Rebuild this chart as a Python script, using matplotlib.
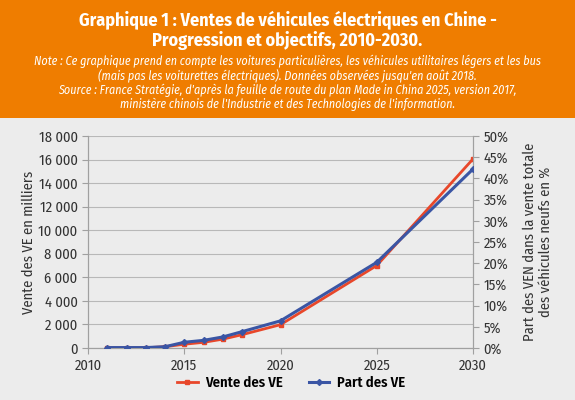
import matplotlib
matplotlib.use("Agg")
import matplotlib.pyplot as plt
from matplotlib.patches import Rectangle
from matplotlib.ticker import FuncFormatter

plt.rcParams['font.family'] = ['Fira Sans Condensed', 'DejaVu Sans']

# Data
annees = [2011, 2012, 2013, 2014, 2015, 2016, 2017, 2018, 2020, 2025, 2030]
vente_ve = [10, 15, 20, 110, 320, 480, 750, 1130, 1980, 7000, 16050]   # milliers
part_ve = [0.1, 0.1, 0.1, 0.3, 1.35, 1.8, 2.6, 3.85, 6.4, 20.2, 42.2]  # %

orange = '#ef7d00'
rouge = '#e8472a'
bleu = '#3a55a4'
fond = '#ececec'

fig = plt.figure(figsize=(5.75, 4), dpi=100, facecolor=fond)
fig.patches.append(Rectangle((0, 1 - 118 / 400), 1, 118 / 400, transform=fig.transFigure,
                             facecolor=orange, edgecolor='none', zorder=0))

fig.text(0.5, 1 - 20 / 400, "Graphique 1 : Ventes de véhicules électriques en Chine -",
         ha='center', va='center', color='white', fontsize=13, fontweight='bold')
fig.text(0.5, 1 - 41 / 400, "Progression et objectifs, 2010-2030.",
         ha='center', va='center', color='white', fontsize=13, fontweight='bold')
notes = ["Note : Ce graphique prend en compte les voitures particulières, les véhicules utilitaires légers et les bus",
         "(mais pas les voiturettes électriques). Données observées jusqu'en août 2018.",
         "Source : France Stratégie, d'après la feuille de route du plan Made in China 2025, version 2017,",
         "ministère chinois de l'Industrie et des Technologies de l'information."]
for i, ligne in enumerate(notes):
    fig.text(0.5, 1 - (61 + i * 14.5) / 400, ligne, ha='center', va='center',
             color='white', fontsize=8.7, style='italic')

ax = fig.add_axes([88 / 575, 52 / 400, 385 / 575, 212 / 400])
ax.set_facecolor(fond)
ax2 = ax.twinx()

l1, = ax.plot(annees, vente_ve, color=rouge, lw=2, marker='s', ms=3.5, label='Vente des VE', zorder=3)
l2, = ax2.plot(annees, part_ve, color=bleu, lw=2.2, marker='D', ms=3, label='Part des VE', zorder=3)

ax.set_xlim(2010, 2030)
ax.set_ylim(0, 18000)
ax2.set_ylim(0, 50)
ax.set_xticks([2010, 2015, 2020, 2025, 2030])
ax.set_yticks(range(0, 18001, 2000))
ax2.set_yticks(range(0, 51, 5))
ax.yaxis.set_major_formatter(FuncFormatter(lambda v, p: f"{int(v):,}".replace(',', ' ')))
ax2.yaxis.set_major_formatter(FuncFormatter(lambda v, p: f"{int(v)}%"))
ax.grid(axis='y', color='#b8b8b8', lw=0.8)
ax.set_axisbelow(True)

for a in (ax, ax2):
    a.spines['top'].set_visible(False)
    for s in ['left', 'right', 'bottom']:
        a.spines[s].set_color('#a0a0a0')
    a.tick_params(colors='#a0a0a0', labelcolor='#333333', labelsize=10.5, length=4)

ax.set_ylabel("Vente des VE en milliers", fontsize=10.5, color='#333333', labelpad=2)
ax2.set_ylabel("Part des VEN dans la vente totale\ndes véhicules neufs en %", fontsize=10.5,
               color='#333333', labelpad=10)

fig.legend(handles=[l1, l2], loc='center', bbox_to_anchor=(291 / 575, 1 - 383 / 400), ncol=2,
           frameon=False, handlelength=1.4, columnspacing=1.8, handletextpad=0.5,
           prop={'family': ['Fira Sans Condensed', 'DejaVu Sans'], 'weight': 'semibold', 'size': 10.5})

fig.savefig("out.png", dpi=100, facecolor=fond)
